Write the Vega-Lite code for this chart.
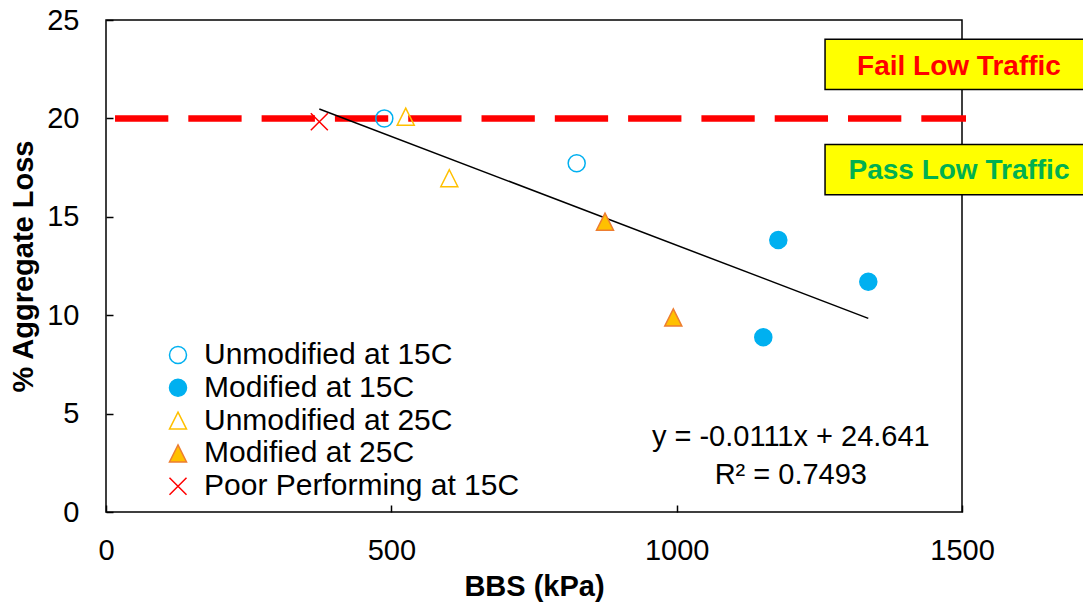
{
  "$schema": "https://vega.github.io/schema/vega-lite/v6.json",
  "width": 856,
  "height": 492,
  "autosize": {"type": "none"},
  "padding": {"left": 106, "top": 20, "right": 121, "bottom": 94},
  "background": "white",
  "config": {
    "font": "Liberation Sans",
    "view": {"stroke": "black", "strokeWidth": 1.5},
    "axis": {
      "grid": false,
      "domain": false,
      "ticks": true,
      "tickColor": "black",
      "tickWidth": 1.5,
      "tickSize": -7,
      "labelFlush": false,
      "labelFont": "Liberation Sans",
      "labelFontSize": 29,
      "labelColor": "black",
      "titleFont": "Liberation Sans",
      "titleFontSize": 29,
      "titleFontWeight": "bold",
      "titleColor": "black",
      "zindex": 1
    },
    "legend": {
      "labelFont": "Liberation Sans",
      "labelFontSize": 30,
      "labelColor": "black",
      "labelLimit": 0,
      "symbolSize": 290,
      "symbolStrokeWidth": 1.5,
      "rowPadding": 2.8,
      "labelOffset": 11,
      "padding": 0
    }
  },
  "datasets": {
    "points": [
      {"bbs": 487.7, "loss": 20.0, "series": "Unmodified at 15C"},
      {"bbs": 824.8, "loss": 17.72, "series": "Unmodified at 15C"},
      {"bbs": 1178.1, "loss": 13.82, "series": "Modified at 15C"},
      {"bbs": 1335.8, "loss": 11.70, "series": "Modified at 15C"},
      {"bbs": 1151.8, "loss": 8.88, "series": "Modified at 15C"},
      {"bbs": 525.2, "loss": 20.09, "series": "Unmodified at 25C"},
      {"bbs": 601.6, "loss": 16.96, "series": "Unmodified at 25C"},
      {"bbs": 874.4, "loss": 14.75, "series": "Modified at 25C"},
      {"bbs": 994.1, "loss": 9.89, "series": "Modified at 25C"},
      {"bbs": 373.8, "loss": 19.83, "series": "Poor Performing at 15C"}
    ],
    "trend": [
      {"bbs": 373.8, "loss": 20.48},
      {"bbs": 1335.8, "loss": 9.84}
    ],
    "limit": [
      {"bbs": 15.8, "loss": 20},
      {"bbs": 1507, "loss": 20}
    ],
    "boxes": [
      {"x1": 1260, "x2": 1780, "y1": 24.02, "y2": 21.47, "label": "Fail Low Traffic", "cx": 1494.7, "cy": 22.62},
      {"x1": 1260, "x2": 1780, "y1": 18.67, "y2": 16.12, "label": "Pass Low Traffic", "cx": 1494.7, "cy": 17.31}
    ],
    "equation": [
      {"bbs": 1200, "loss": 3.82, "text": "y = -0.0111x + 24.641"},
      {"bbs": 1200, "loss": 1.86, "text": "R² = 0.7493"}
    ]
  },
  "layer": [
    {
      "data": {"name": "limit"},
      "mark": {"type": "line", "color": "#FF0000", "strokeWidth": 6.5, "strokeDash": [53.3, 20], "strokeCap": "butt", "clip": false},
      "encoding": {
        "x": {"field": "bbs", "type": "quantitative", "scale": {"domain": [0, 1500], "nice": false},
          "axis": {"values": [0, 500, 1000, 1500], "format": "d", "title": "BBS (kPa)", "labelPadding": 31, "titleY": 60, "titleBaseline": "top"}},
        "y": {"field": "loss", "type": "quantitative", "scale": {"domain": [0, 25], "nice": false, "zero": false},
          "axis": {"values": [0, 5, 10, 15, 20, 25], "format": "d", "title": "% Aggregate Loss", "labelPadding": 34, "titleX": -68, "titleBaseline": "bottom"}}
      }
    },
    {
      "data": {"name": "trend"},
      "mark": {"type": "line", "color": "black", "strokeWidth": 1.5},
      "encoding": {
        "x": {"field": "bbs", "type": "quantitative"},
        "y": {"field": "loss", "type": "quantitative"}
      }
    },
    {
      "data": {"name": "points"},
      "mark": {"type": "point", "filled": true, "strokeWidth": 1.5, "size": 290, "opacity": 1},
      "encoding": {
        "x": {"field": "bbs", "type": "quantitative"},
        "y": {"field": "loss", "type": "quantitative"},
        "shape": {"field": "series", "type": "nominal",
          "scale": {"domain": ["Unmodified at 15C", "Modified at 15C", "Unmodified at 25C", "Modified at 25C", "Poor Performing at 15C"],
                    "range": ["circle", "circle", "M0,-1L1,1L-1,1Z", "M0,-1L1,1L-1,1Z", "M-1,-1L1,1M-1,1L1,-1"]},
          "legend": {"title": null, "orient": "none", "legendX": 57, "legendY": 320}},
        "fill": {"field": "series", "type": "nominal",
          "scale": {"domain": ["Unmodified at 15C", "Modified at 15C", "Unmodified at 25C", "Modified at 25C", "Poor Performing at 15C"],
                    "range": ["transparent", "#00B0F0", "transparent", "#FFC000", "transparent"]},
          "legend": {"title": null, "orient": "none", "legendX": 57, "legendY": 320}},
        "stroke": {"field": "series", "type": "nominal",
          "scale": {"domain": ["Unmodified at 15C", "Modified at 15C", "Unmodified at 25C", "Modified at 25C", "Poor Performing at 15C"],
                    "range": ["#00B0F0", "#00B0F0", "#FFC000", "#ED7D31", "#FF0000"]},
          "legend": {"title": null, "orient": "none", "legendX": 57, "legendY": 320}}
      }
    },
    {
      "data": {"name": "boxes"},
      "mark": {"type": "rect", "fill": "#FFFF00", "stroke": "black", "strokeWidth": 1.5, "clip": false},
      "encoding": {
        "x": {"field": "x1", "type": "quantitative"},
        "x2": {"field": "x2"},
        "y": {"field": "y1", "type": "quantitative"},
        "y2": {"field": "y2"}
      }
    },
    {
      "data": {"name": "boxes"},
      "mark": {"type": "text", "font": "Liberation Sans", "fontSize": 28, "fontWeight": "bold", "align": "center", "baseline": "middle", "clip": false},
      "encoding": {
        "x": {"field": "cx", "type": "quantitative"},
        "y": {"field": "cy", "type": "quantitative"},
        "text": {"field": "label"},
        "color": {"field": "label", "type": "nominal",
          "scale": {"domain": ["Fail Low Traffic", "Pass Low Traffic"], "range": ["#FF0000", "#00B050"]},
          "legend": null}
      }
    },
    {
      "data": {"name": "equation"},
      "mark": {"type": "text", "font": "Liberation Sans", "fontSize": 29, "color": "black", "align": "center", "baseline": "middle"},
      "encoding": {
        "x": {"field": "bbs", "type": "quantitative"},
        "y": {"field": "loss", "type": "quantitative"},
        "text": {"field": "text"}
      }
    }
  ]
}
